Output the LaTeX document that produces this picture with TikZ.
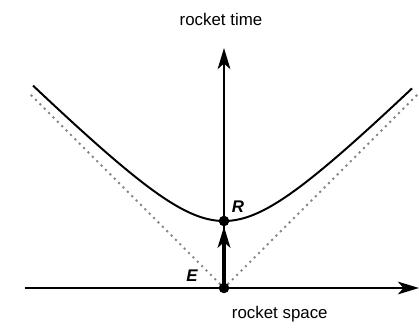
\documentclass[tikz,border=0pt]{standalone}
\usepackage{fontspec}
\setmainfont{Liberation Sans}
\usetikzlibrary{arrows.meta}
\definecolor{conegray}{RGB}{135,135,135}

\begin{document}
\begin{tikzpicture}[x=.25cm, y=.25cm, >={Stealth[length=15pt,width=9pt,inset=4pt]},
    font=\fontsize{12}{14}\selectfont,
    axis/.style={line width=1.9pt},
    cone/.style={conegray, line width=2.1pt, line cap=round, dash pattern=on 0pt off 4.4pt},
    event/.style={circle, fill, inner sep=0pt, minimum size=7.5pt}]
  \useasboundingbox (-22.4,-4.3) rectangle (19.5,28.8);
  \coordinate (E) at (0,0);
  \coordinate (R) at (0,6.7);
  \coordinate (xl) at (-19.9,0);
  \coordinate (xr) at (19.5,0);
  \coordinate (tt) at (0,24);
  \coordinate (cl) at (-19.4,19.4);
  \coordinate (cr) at (19.4,19.4);
  % light cone
  \draw[cone] (E) -- (cl);
  \draw[cone] (E) -- (cr);
  % hyperbola of the rocket
  \draw[line width=1.4pt] plot[domain=-19.1:18.8, samples=80, smooth] (\x,{sqrt(6.7*6.7+\x*\x)});
  % axes
  \draw[axis,->] (xl) -- (xr);
  \draw[axis,->] (E) -- (tt);
  \draw[line width=2.3pt,->,shorten >=4pt] (E) -- (R);
  \node[event] (Edot) at (E) {};
  \node[event] (Rdot) at (R) {};
  \node (Elabel) at (-3.2,1.2) {\bfseries\itshape E};
  \node (Rlabel) at (1.4,8.1) {\bfseries\itshape R};
  \node (tlabel) at (-0.3,26.9) {rocket time};
  \node[anchor=west] (slabel) at (0.3,-2.6) {rocket space};
\end{tikzpicture}
\end{document}
